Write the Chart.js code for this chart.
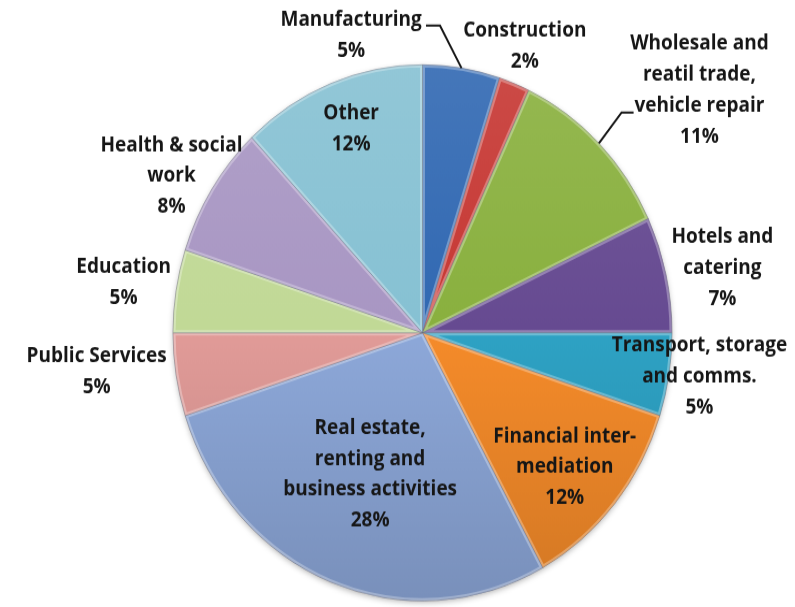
<!DOCTYPE html>
<html>
<head>
<meta charset="utf-8">
<script src="https://cdn.jsdelivr.net/npm/chart.js@4.4.1/dist/chart.umd.min.js"></script>
<style>
  html, body { margin: 0; padding: 0; background: #ffffff; overflow: hidden; }
  #marco { width: 795px; height: 607px; position: relative; overflow: hidden; }
  /* la tarta se dibuja algo achatada y se estira luego a elipse */
  #wrap { position: absolute; left: 0; top: 0; width: 795px; height: 565px;
          transform: scaleY(1.0743); transform-origin: 0 0; }
</style>
</head>
<body>
<div id="marco"><div id="wrap"><canvas id="miGrafico" width="795" height="565"></canvas></div></div>
<script>
// Sectores, en el orden de las agujas del reloj desde arriba
var categorias = ['Manufacturing', 'Construction', 'Wholesale and reatil trade, vehicle repair',
  'Hotels and catering', 'Transport, storage and comms.', 'Financial inter-mediation',
  'Real estate, renting and business activities', 'Public Services', 'Education',
  'Health & social work', 'Other'];
var porcentajes = [5, 2, 11, 7, 5, 12, 28, 5, 5, 8, 12];

// Texto de cada etiqueta, partido en líneas
var lineasEtiqueta = [
  ['Manufacturing'],
  ['Construction'],
  ['Wholesale and', 'reatil trade,', 'vehicle repair'],
  ['Hotels and', 'catering'],
  ['Transport, storage', 'and comms.'],
  ['Financial inter-', 'mediation'],
  ['Real estate,', 'renting and', 'business activities'],
  ['Public Services'],
  ['Education'],
  ['Health & social', 'work'],
  ['Other']
];

var colores = ['#3068B2', '#C63733', '#89B03E', '#664A91', '#2EA2C4', '#F58B2A',
  '#8DA8D9', '#E19B98', '#C1D996', '#A896C3', '#86C1D3'];

// Centro de cada etiqueta, en radios desde el centro de la tarta
var posEtiqueta = [
  [-0.286, -1.109], [0.41, -1.068], [1.11, -0.904], [1.202, -0.242],
  [1.11, 0.164], [0.57, 0.502], [-0.21, 0.528], [-1.306, 0.145],
  [-1.198, -0.186], [-1.006, -0.584], [-0.286, -0.761]
];
// Líneas guía: codo (en radios) y tramo horizontal hasta el texto
var guias = {
  0: { codo: [0.07, -1.146], tramo: -14 },
  2: { codo: [0.798, -0.822], tramo: 12 }
};
var ALTO_LINEA = 28.8;

function hexRgb(h) {
  return [parseInt(h.substr(1, 2), 16), parseInt(h.substr(3, 2), 16), parseInt(h.substr(5, 2), 16)];
}
function mezcla(h, destino, t) {
  var c = hexRgb(h);
  var r = c.map(function (v) { return Math.round(v + (destino - v) * t); });
  return 'rgb(' + r.join(',') + ')';
}

// Relleno con degradado vertical: más claro arriba, más oscuro abajo
function relleno(context) {
  var chart = context.chart;
  var base = colores[context.dataIndex];
  var area = chart.chartArea;
  if (!area) return base;
  var g = chart.ctx.createLinearGradient(0, area.top, 0, area.bottom);
  g.addColorStop(0, mezcla(base, 255, 0.10));
  g.addColorStop(0.5, base);
  g.addColorStop(1, mezcla(base, 0, 0.14));
  return g;
}

function trazarSector(ctx, p) {
  ctx.beginPath();
  ctx.moveTo(p.x, p.y);
  ctx.arc(p.x, p.y, p.outerRadius, p.startAngle, p.endAngle);
  ctx.closePath();
}

// Sombra suave bajo la tarta
var sombra = {
  id: 'sombra',
  beforeDatasetsDraw: function (chart) {
    var arco = chart.getDatasetMeta(0).data[0];
    if (!arco) return;
    var p = arco.getProps(['x', 'y', 'outerRadius'], true);
    var ctx = chart.ctx;
    ctx.save();
    ctx.shadowColor = 'rgba(0,0,0,0.35)';
    ctx.shadowBlur = 6;
    ctx.shadowOffsetY = 2;
    ctx.fillStyle = '#8a9fc6';
    ctx.beginPath();
    ctx.arc(p.x, p.y, p.outerRadius - 1, 0, Math.PI * 2);
    ctx.fill();
    ctx.restore();
  }
};

// Bisel: brillo claro en el interior del borde de cada sector
var bisel = {
  id: 'bisel',
  afterDatasetsDraw: function (chart) {
    var ctx = chart.ctx;
    chart.getDatasetMeta(0).data.forEach(function (arco) {
      var p = arco.getProps(['x', 'y', 'outerRadius', 'startAngle', 'endAngle'], true);
      ctx.save();
      trazarSector(ctx, p);
      ctx.clip();
      trazarSector(ctx, p);
      ctx.strokeStyle = 'rgba(255,255,255,0.30)';
      ctx.lineWidth = 5;
      ctx.lineJoin = 'round';
      ctx.stroke();
      ctx.restore();
    });
  }
};

var etiquetasSectores = {
  id: 'etiquetasSectores',
  afterDatasetsDraw: function (chart) {
    var ctx = chart.ctx;
    var arcos = chart.getDatasetMeta(0).data;
    arcos.forEach(function (arco, i) {
      var p = arco.getProps(['x', 'y', 'outerRadius', 'startAngle', 'endAngle'], true);
      var r = p.outerRadius;
      var cx = p.x + posEtiqueta[i][0] * r;
      var cy = p.y + posEtiqueta[i][1] * r;
      var lineas = lineasEtiqueta[i].concat([porcentajes[i] + '%']);
      ctx.save();
      ctx.font = 'bold 19px "Open Sans"';
      ctx.fillStyle = '#161616';
      ctx.textAlign = 'center';
      ctx.textBaseline = 'middle';
      var arriba = cy - (lineas.length - 1) * ALTO_LINEA / 2;
      lineas.forEach(function (t, k) { ctx.fillText(t, cx, arriba + k * ALTO_LINEA); });

      var guia = guias[i];
      if (guia) {
        var medio = (p.startAngle + p.endAngle) / 2;
        var ex = p.x + Math.cos(medio) * r;
        var ey = p.y + Math.sin(medio) * r;
        var kx = p.x + guia.codo[0] * r;
        var ky = p.y + guia.codo[1] * r;
        ctx.strokeStyle = '#161616';
        ctx.lineWidth = 2;
        ctx.beginPath();
        ctx.moveTo(ex, ey);
        ctx.lineTo(kx, ky);
        ctx.lineTo(kx + guia.tramo, ky);
        ctx.stroke();
      }
      ctx.restore();
    });
  }
};

var miGraficoCanvas = document.getElementById('miGrafico').getContext('2d');
new Chart(miGraficoCanvas, {
  type: 'pie',
  data: {
    labels: categorias,
    datasets: [{
      data: porcentajes,
      backgroundColor: relleno,
      borderColor: 'rgba(40,40,60,0.35)',
      borderWidth: 1
    }]
  },
  options: {
    responsive: false,
    animation: false,
    layout: { padding: { left: 172.5, right: 122.5, top: 59.8, bottom: 5.2 } },
    plugins: {
      legend: { display: false },
      tooltip: { enabled: false }
    }
  },
  plugins: [sombra, bisel, etiquetasSectores]
});
</script>
</body>
</html>
